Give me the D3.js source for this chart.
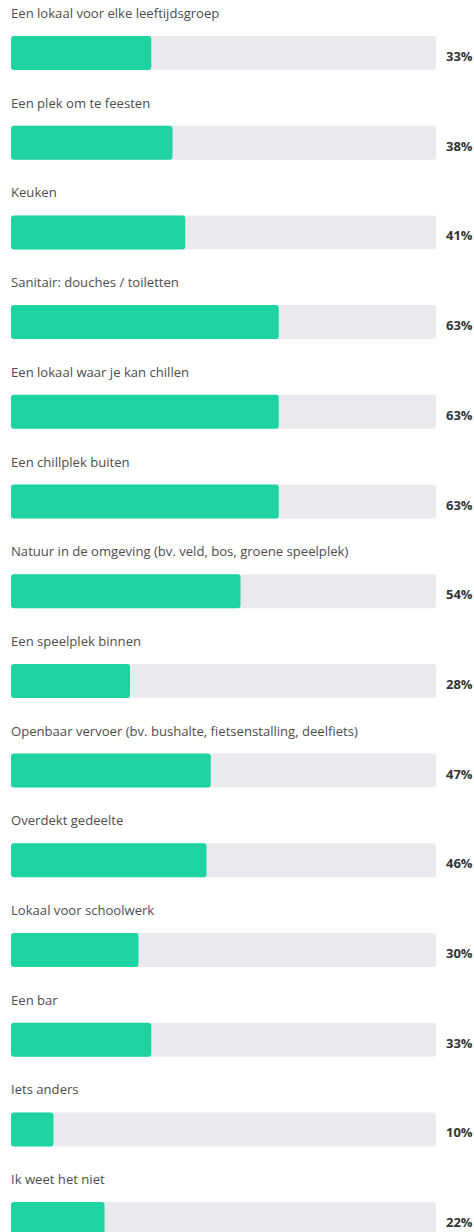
<!DOCTYPE html>
<html><head><meta charset="utf-8">
<script src="https://cdn.jsdelivr.net/npm/d3@7"></script>
<style>html,body{margin:0;padding:0;background:#fff;}svg{display:block;}</style>
</head><body>
<svg id="c" width="474" height="1232"></svg>
<script>
const categories = [
  "Een lokaal voor elke leeftijdsgroep",
  "Een plek om te feesten",
  "Keuken",
  "Sanitair: douches / toiletten",
  "Een lokaal waar je kan chillen",
  "Een chillplek buiten",
  "Natuur in de omgeving (bv. veld, bos, groene speelplek)",
  "Een speelplek binnen",
  "Openbaar vervoer (bv. bushalte, fietsenstalling, deelfiets)",
  "Overdekt gedeelte",
  "Lokaal voor schoolwerk",
  "Een bar",
  "Iets anders",
  "Ik weet het niet"
];
const values = [33, 38, 41, 63, 63, 63, 54, 28, 47, 46, 30, 33, 10, 22];
const valueLabels = ["33%","38%","41%","63%","63%","63%","54%","28%","47%","46%","30%","33%","10%","22%"];

const svg = d3.select("#c");
const x = d3.scaleLinear().domain([0, 100]).range([11, 436]);
const y = d3.scaleBand().domain(categories).range([0, 89.7 * categories.length]).paddingInner(0).paddingOuter(0);

const g = svg.selectAll("g.item").data(categories).join("g").attr("class","item")
  .attr("transform", d => `translate(0,${y(d)})`);

g.append("text")
  .attr("x", 11).attr("y", 18)
  .attr("font-family", "'Open Sans', sans-serif")
  .attr("font-size", 13.1)
  .attr("fill", "#4d4d4d")
  .text(d => d);

g.append("rect")
  .attr("x", x(0)).attr("y", 36)
  .attr("width", x(100) - x(0)).attr("height", 34)
  .attr("rx", 3).attr("fill", "#e8eaed");

g.append("rect")
  .attr("x", x(0)).attr("y", 36)
  .attr("width", (d, i) => x(values[i]) - x(0)).attr("height", 34)
  .attr("rx", 3).attr("fill", "#1dd3a2");

g.append("text")
  .attr("x", 446).attr("y", 61)
  .attr("font-family", "'Open Sans', sans-serif")
  .attr("font-size", 13)
  .attr("font-weight", "bold")
  .attr("fill", "#333")
  .text((d, i) => valueLabels[i]);
</script>
</body></html>
